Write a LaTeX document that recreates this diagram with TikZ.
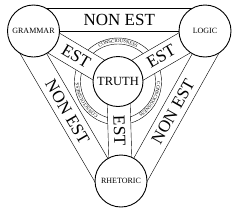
\documentclass[tikz,border=0pt]{standalone}
\usepackage{fontspec}
\setmainfont{Liberation Serif}
\usetikzlibrary{calc, backgrounds, decorations.text}
\newcommand{\ringfont}{\fontsize{4.8}{5}\selectfont}

\begin{document}
\begin{tikzpicture}[
    x=1pt, y=1pt,
    line width=0.9pt,
    disc/.style={circle, draw, fill=white, inner sep=0pt, minimum size=52pt, font=\fontsize{8}{8}\selectfont},
    band/.style={draw, fill=white},
    bigword/.style={font=\fontsize{17}{17}\selectfont, inner sep=0pt},
    ringword/.style={decorate, decoration={text along path, text align=center, text={|\ringfont|CONSCIOUSNESS}}}
  ]
    \useasboundingbox (0,0) rectangle (238,-212);

    \node[disc] (gram) at (33.5,-31) {GRAMMAR};
    \node[disc] (logic) at (205,-31) {LOGIC};
    \node[disc] (rhet) at (121,-181) {RHETORIC};
    \node[disc, minimum size=50pt, font=\fontsize{12.5}{12.5}\selectfont] (truth) at (118,-81.5) {TRUTH};

    \begin{pgfonlayer}{background}
    % ring round the centre
    \draw (truth.center) circle (43.5);
    \draw (truth.center) circle (37.5);
    \path[ringword] ([shift={(125:39)}]truth.center) arc[start angle=125, end angle=55, radius=39];
    \path[ringword] ([shift={(245.6:39)}]truth.center) arc[start angle=245.6, end angle=175.6, radius=39];
    \path[ringword] ([shift={(5.9:39)}]truth.center) arc[start angle=5.9, end angle=-64.1, radius=39];

    % spokes
    \foreach \v in {gram, logic, rhet} {
      \draw[band] ($(truth.center)!11.5pt!90:(\v.center)$) -- ($(\v.center)!11.5pt!-90:(truth.center)$)
        -- ($(\v.center)!11.5pt!90:(truth.center)$) -- ($(truth.center)!11.5pt!-90:(\v.center)$) -- cycle;
      \path (truth) -- (\v) node[midway, sloped, bigword] {EST};
    }

    % outer bands
    \foreach \a/\b in {gram/logic, logic/rhet, rhet/gram} {
      \draw[band] (\a.center) -- (\b.center) -- ($(\b.center)!23pt!-90:(\a.center)$)
        -- ($(\a.center)!23pt!90:(\b.center)$) -- cycle;
      \path ($(\a.center)!11.5pt!90:(\b.center)$) -- ($(\b.center)!11.5pt!-90:(\a.center)$)
        node[midway, sloped, bigword] {NON EST};
    }
    \end{pgfonlayer}
  \end{tikzpicture}
\end{document}
